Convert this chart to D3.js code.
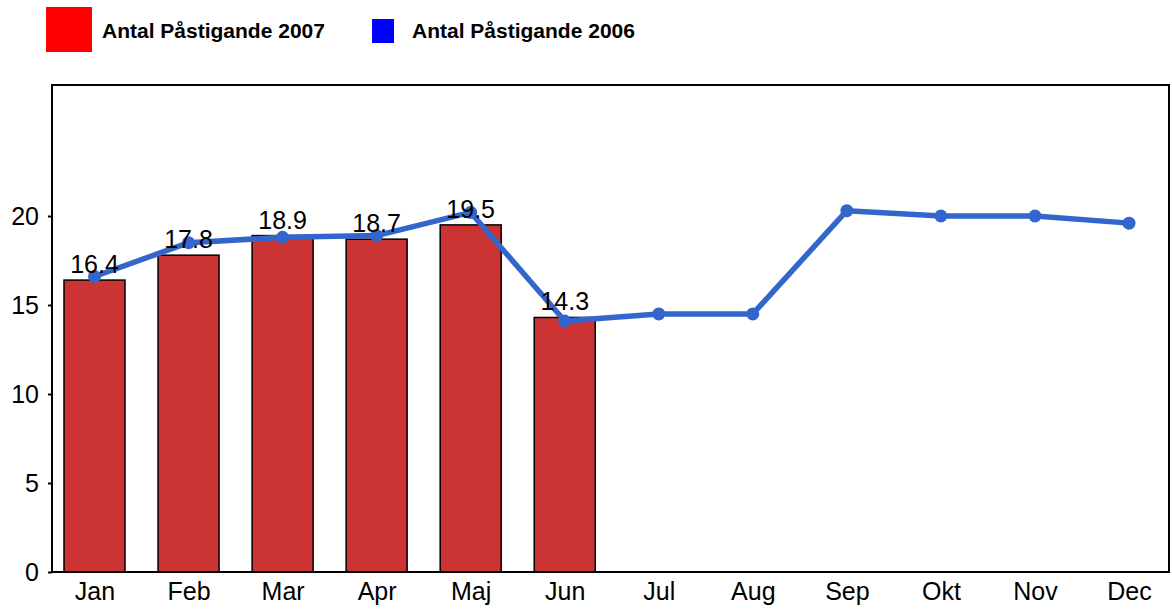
<!DOCTYPE html>
<html>
<head>
<meta charset="utf-8">
<script src="https://cdn.jsdelivr.net/npm/d3@7"></script>
<style>
  body { margin: 0; background: #fff; }
  svg { font-family: "Liberation Sans", Arial, sans-serif; }
</style>
</head>
<body>
<svg id="chart" width="1172" height="609"></svg>
<script>
// Monthly boardings, 2007 as bars and 2006 as a line
const months = ['Jan', 'Feb', 'Mar', 'Apr', 'Maj', 'Jun', 'Jul', 'Aug', 'Sep', 'Okt', 'Nov', 'Dec'];
const values2007 = [16.4, 17.8, 18.9, 18.7, 19.5, 14.3];
const values2006 = [16.6, 18.5, 18.8, 18.9, 20.2, 14.1, 14.5, 14.5, 20.3, 20.0, 20.0, 19.6];
const yTicks = [0, 5, 10, 15, 20];

const svg = d3.select('#chart');
const plot = { left: 52, right: 1169, top: 85, bottom: 572 };

const x = d3.scalePoint().domain(months).range([94.5, 1129]);
const y = d3.scaleLinear().domain([0, 27.36]).range([plot.bottom, plot.top]);
const barW = 61;

// ── Legend ──────────────────────────────────────────────────────────────
const legend = [
    { label: 'Antal Påstigande 2007', color: '#ff0000', x: 46, y: 7, w: 46, h: 45, tx: 102 },
    { label: 'Antal Påstigande 2006', color: '#0000ff', x: 372, y: 19, w: 22, h: 24, tx: 412 },
];
legend.forEach(l => {
    svg.append('rect').attr('x', l.x).attr('y', l.y).attr('width', l.w).attr('height', l.h).attr('fill', l.color);
    svg.append('text').attr('x', l.tx).attr('y', 30).attr('dominant-baseline', 'central')
        .attr('font-size', '21px').attr('font-weight', 'bold').attr('fill', '#000').text(l.label);
});

// ── Bars 2007 ───────────────────────────────────────────────────────────
const bars = values2007.map((v, i) => ({ m: months[i], v }));
svg.selectAll('.bar').data(bars).join('rect')
    .attr('class', 'bar')
    .attr('x', d => x(d.m) - barW / 2)
    .attr('y', d => y(d.v))
    .attr('width', barW)
    .attr('height', d => y(0) - y(d.v))
    .attr('fill', '#cc3333')
    .attr('stroke', '#000')
    .attr('stroke-width', 1.5);

// ── Line 2006 ───────────────────────────────────────────────────────────
const pts = values2006.map((v, i) => ({ m: months[i], v }));
svg.append('path').datum(pts)
    .attr('fill', 'none')
    .attr('stroke', '#3366cc')
    .attr('stroke-width', 5.5)
    .attr('stroke-linejoin', 'round')
    .attr('d', d3.line().x(d => x(d.m)).y(d => y(d.v)));
svg.selectAll('.pt').data(pts).join('circle')
    .attr('class', 'pt')
    .attr('cx', d => x(d.m)).attr('cy', d => y(d.v)).attr('r', 6.5)
    .attr('fill', '#3366cc');

// Bar value labels
svg.selectAll('.val').data(bars).join('text')
    .attr('class', 'val')
    .attr('x', d => x(d.m))
    .attr('y', d => y(d.v) - 7)
    .attr('text-anchor', 'middle')
    .attr('font-size', '25px')
    .attr('fill', '#000')
    .text(d => d.v.toFixed(1));

// ── Frame and axes ──────────────────────────────────────────────────────
svg.append('rect')
    .attr('x', plot.left).attr('y', plot.top)
    .attr('width', plot.right - plot.left).attr('height', plot.bottom - plot.top)
    .attr('fill', 'none').attr('stroke', '#000').attr('stroke-width', 2);

const yAxis = svg.append('g').attr('transform', `translate(${plot.left},0)`)
    .call(d3.axisLeft(y).tickValues(yTicks).tickSize(4).tickPadding(9).tickSizeOuter(0));
yAxis.select('.domain').remove();
yAxis.selectAll('text').attr('font-size', '25px').attr('fill', '#000').attr('font-family', null);
yAxis.selectAll('line').attr('stroke', '#000').attr('stroke-width', 2);

const xAxis = svg.append('g').attr('transform', `translate(0,${plot.bottom})`)
    .call(d3.axisBottom(x).tickSize(0).tickPadding(0));
xAxis.select('.domain').remove();
xAxis.selectAll('text').attr('font-size', '25px').attr('fill', '#000').attr('font-family', null)
    .attr('dy', null).attr('y', 28);
</script>
</body>
</html>
